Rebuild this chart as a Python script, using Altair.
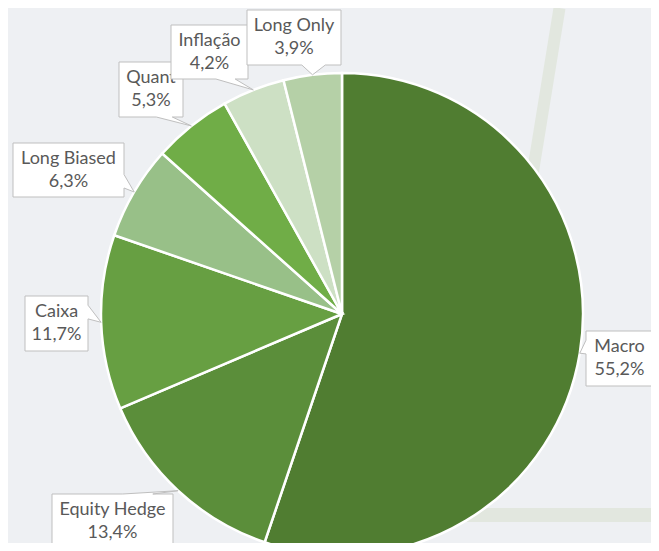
import math
import altair as alt
import pandas as pd

# ---- data ----
categories = ["Macro", "Equity Hedge", "Caixa", "Long Biased", "Quant", "Inflação", "Long Only"]
values = [55.2, 13.4, 11.7, 6.3, 5.3, 4.2, 3.9]
colors = ["#507d31", "#5b8e3a", "#679f42", "#98c088", "#70ad47", "#cde0c4", "#b5d0a7"]

# ---- layout of the callout boxes (chart pixel coords: center x/y, width, height) ----
box_cx = [611.5, 104.5, 48.5, 60.5, 143, 201.5, 286]
box_cy = [350.5, 513.5, 315.5, 162, 81.5, 44, 29.5]
box_w = [67, 121, 63, 111, 64, 77, 94]
box_h = [55, 55, 55, 54, 55, 54, 55]

W, H = 643, 535
PCX, PCY, R = 334, 306, 241
BG = "#eef0f3"
TXT = "#595959"
FONT = "Lato"

total = sum(values)
pct = [f"{v:.1f}".replace(".", ",") + "%" for v in values]

# tip of each callout: middle of its slice on the pie edge
tips = []
cum = 0.0
for v in values:
    mid = (cum + v / 2) / total * 2 * math.pi
    tips.append((PCX + R * math.sin(mid), PCY - R * math.cos(mid)))
    cum += v


def callout(w, h, dx, dy):
    hw, hh = w / 2, h / 2
    if abs(dx) / w > abs(dy) / h:
        side = "right" if dx > 0 else "left"
    else:
        side = "bottom" if dy > 0 else "top"
    pts = [(-hw, -hh)]
    if side == "top":
        a, b = (w * 7 / 12, w * 10 / 12) if dx > 0 else (w * 2 / 12, w * 5 / 12)
        pts += [(-hw + a, -hh), (dx, dy), (-hw + b, -hh)]
    pts.append((hw, -hh))
    if side == "right":
        a, b = (h * 7 / 12, h * 10 / 12) if dy > 0 else (h * 2 / 12, h * 5 / 12)
        pts += [(hw, -hh + a), (dx, dy), (hw, -hh + b)]
    pts.append((hw, hh))
    if side == "bottom":
        a, b = (w * 7 / 12, w * 10 / 12) if dx > 0 else (w * 2 / 12, w * 5 / 12)
        pts += [(-hw + b, hh), (dx, dy), (-hw + a, hh)]
    pts.append((-hw, hh))
    if side == "left":
        a, b = (h * 7 / 12, h * 10 / 12) if dy > 0 else (h * 2 / 12, h * 5 / 12)
        pts += [(-hw, -hh + b), (dx, dy), (-hw, -hh + a)]
    return "M" + " L".join(f"{x:.1f},{y:.1f}" for x, y in pts) + " Z"


pie_df = pd.DataFrame({
    "cat": categories, "val": values, "col": colors, "idx": list(range(len(values)))
})

box_df = pd.DataFrame({
    "idx": list(range(len(values))),
    "cx": box_cx, "cy": box_cy,
    "path": [callout(box_w[i], box_h[i], tips[i][0] - box_cx[i], tips[i][1] - box_cy[i])
             for i in range(len(values))],
})

txt_rows = []
for i in range(len(values)):
    txt_rows.append({"idx": i, "tx": box_cx[i], "ty": box_cy[i] - 11.5, "t": categories[i]})
    txt_rows.append({"idx": i, "tx": box_cx[i], "ty": box_cy[i] + 11.5, "t": pct[i]})
txt_df = pd.DataFrame(txt_rows)

# decorative background strokes
deco1 = alt.Chart(pd.DataFrame({"k": [0]})).mark_rule(
    strokeWidth=12, color="#e2e7df", strokeCap="butt"
).encode(x=alt.value(551.5), y=alt.value(0), x2=alt.value(502), y2=alt.value(305))
deco2 = alt.Chart(pd.DataFrame({"k": [0]})).mark_rule(
    strokeWidth=14, color="#e2e7df", strokeCap="butt"
).encode(x=alt.value(430), y=alt.value(507), x2=alt.value(W), y2=alt.value(507))

pie = alt.Chart(pie_df).mark_arc(
    outerRadius=R, stroke="white", strokeWidth=2.5
).encode(
    theta=alt.Theta("val:Q", stack=True),
    order=alt.Order("idx:Q", sort="ascending"),
    color=alt.Color("col:N", scale=None, legend=None),
    x=alt.value(PCX), y=alt.value(PCY),
)

layers = [deco1, deco2, pie]
for i in range(len(values)):
    box = alt.Chart(box_df).transform_filter(alt.datum.idx == i).mark_point(
        size=4, fill="white", stroke="#bfbfbf", strokeWidth=1, opacity=1, fillOpacity=1
    ).encode(
        x=alt.X("cx:Q", scale=None, axis=None),
        y=alt.Y("cy:Q", scale=None, axis=None),
        shape=alt.Shape("path:N", scale=None, legend=None),
    )
    txt = alt.Chart(txt_df).transform_filter(alt.datum.idx == i).mark_text(
        font=FONT, fontSize=18, color=TXT, align="center", baseline="middle"
    ).encode(
        x=alt.X("tx:Q", scale=None, axis=None),
        y=alt.Y("ty:Q", scale=None, axis=None),
        text="t:N",
    )
    layers += [box, txt]

chart = alt.layer(*layers).properties(
    width=W, height=H, background=BG, padding=0,
    autosize=alt.AutoSizeParams(type="none"),
).configure_view(stroke=None)

chart.save("out.html", embed_options={"renderer": "svg", "actions": False})
